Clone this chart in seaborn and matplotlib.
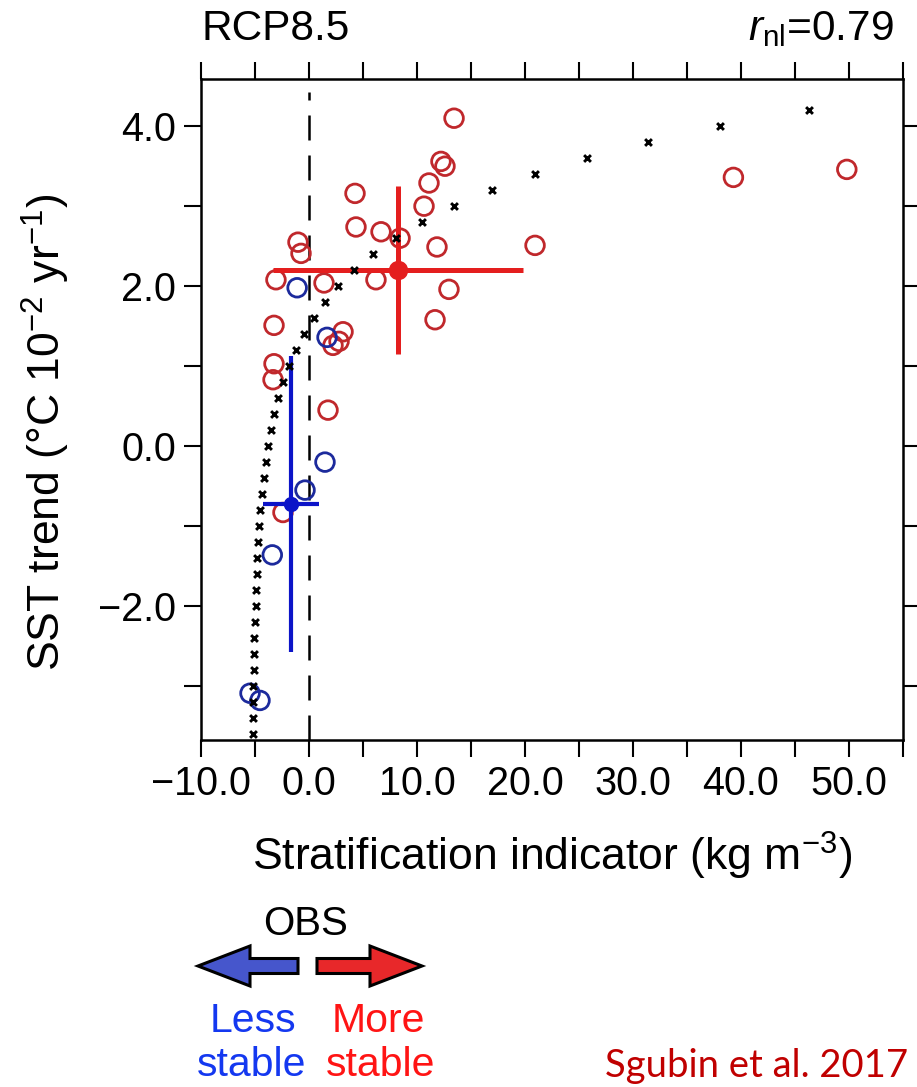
import matplotlib
matplotlib.use("Agg")
import matplotlib.pyplot as plt
from matplotlib.patches import FancyArrow
from matplotlib.ticker import MultipleLocator, FuncFormatter
import seaborn as sns

# model circles coloured red (more stable) / blue (less stable)
red_x = [13.43, 12.22, 12.59, 11.11, 10.65, 4.26, 4.35, 6.67, 8.43, 11.85, 20.93,
         -1.02, -0.74, -3.06, 1.39, 6.20, 12.96, 11.67, -3.24, 3.15, 2.78, 2.22,
         -3.24, -3.33, 1.76, -2.41, 39.3, 49.8]
red_y = [4.10, 3.56, 3.50, 3.29, 3.00, 3.16, 2.74, 2.68, 2.60, 2.49, 2.51,
         2.55, 2.41, 2.08, 2.04, 2.08, 1.96, 1.58, 1.51, 1.43, 1.31, 1.26,
         1.03, 0.83, 0.45, -0.83, 3.36, 3.46]
blue_x = [-1.10, 1.67, 1.48, -0.37, -3.40, -5.46, -4.54]
blue_y = [1.98, 1.36, -0.20, -0.55, -1.36, -3.09, -3.18]

# nonlinear fit (black crosses)
fit_y = [-3.6, -3.4, -3.2, -3.0, -2.8, -2.6, -2.4, -2.2, -2.0, -1.8,
         -1.6, -1.4, -1.2, -1.0, -0.8, -0.6, -0.4, -0.2, 0.0, 0.2,
         0.4, 0.6, 0.8, 1.0, 1.2, 1.4, 1.6, 1.8, 2.0, 2.2,
         2.4, 2.6, 2.8, 3.0, 3.2, 3.4, 3.6, 3.8, 4.0, 4.2]
fit_x = [-5.2, -5.2, -5.15, -5.15, -5.1, -5.05, -5.05, -5.0, -4.95, -4.9,
         -4.85, -4.8, -4.7, -4.6, -4.5, -4.35, -4.2, -4.0, -3.8, -3.5,
         -3.2, -2.85, -2.4, -1.85, -1.2, -0.45, 0.5, 1.5, 2.7, 4.2,
         5.9, 8.1, 10.5, 13.4, 16.9, 20.9, 25.7, 31.4, 38.1, 46.3]

# group means with spread
mean_red = (8.24, 2.20)
err_red = (11.6, 1.05)
mean_blue = (-1.67, -0.725)
err_blue = (2.55, 1.85)

x_lim = (-10, 55)
y_lim = (-3.675, 4.59)

sns.set_theme(style="ticks")
plt.rcParams['font.family'] = ['Liberation Sans', 'DejaVu Sans']
plt.rcParams['mathtext.fontset'] = 'custom'
plt.rcParams['mathtext.rm'] = 'Liberation Sans'
plt.rcParams['mathtext.it'] = 'Liberation Sans:italic'
for key in ['text.color', 'axes.labelcolor', 'xtick.color', 'ytick.color', 'axes.edgecolor']:
    plt.rcParams[key] = 'black'

FS = 28.5
LFS = 32
fig = plt.figure(figsize=(9.17, 10.87), dpi=100)
ax = fig.add_axes([0.2192, 0.3192, 0.7655, 0.6081])

ax.axvline(0, ymax=0.98, color='black', lw=1.8, dashes=(10, 6), zorder=1)

sns.scatterplot(x=red_x, y=red_y, ax=ax, marker='o', s=180, facecolors='none',
                edgecolor='#c0282c', linewidth=2.0, zorder=2)
sns.scatterplot(x=blue_x, y=blue_y, ax=ax, marker='o', s=180, facecolors='none',
                edgecolor='#1c2a9c', linewidth=2.0, zorder=2)

ax.errorbar(mean_red[0], mean_red[1], xerr=err_red[0], yerr=err_red[1], fmt='o',
            color='#e41e1e', ms=13, lw=3.6, capsize=0, zorder=3)
ax.errorbar(mean_blue[0], mean_blue[1], xerr=err_blue[0], yerr=err_blue[1], fmt='o',
            color='#0c14c8', ms=10, lw=3.0, capsize=0, zorder=3)

sns.scatterplot(x=fit_x, y=fit_y, ax=ax, marker='x', s=24, color='black',
                linewidth=2.1, zorder=4)

minus_fmt = FuncFormatter(lambda v, pos: f"{v:.1f}".replace('-', '\u2212'))
ax.set_xlim(*x_lim)
ax.set_ylim(*y_lim)
ax.xaxis.set_major_locator(MultipleLocator(10))
ax.xaxis.set_minor_locator(MultipleLocator(5))
ax.yaxis.set_major_locator(MultipleLocator(2))
ax.yaxis.set_minor_locator(MultipleLocator(1))
ax.xaxis.set_major_formatter(minus_fmt)
ax.yaxis.set_major_formatter(minus_fmt)
ax.tick_params(which='both', direction='out', length=12, width=1.5, color='black',
               top=True, right=True, labelsize=FS, labelcolor='black', pad=6)
for sp in ax.spines.values():
    sp.set_visible(True)
    sp.set_linewidth(1.8)
    sp.set_color('black')

ax.set_xlabel('Stratification indicator (kg m$^{-3}$)', fontsize=LFS, labelpad=19)
ax.set_ylabel('SST trend (°C 10$^{-2}$ yr$^{-1}$)', fontsize=LFS)
ax.yaxis.set_label_coords(-0.184, 0.466)

ax.text(0, 1.059, 'RCP8.5', transform=ax.transAxes, ha='left', va='baseline',
        fontsize=30.5)
ax.text(0.987, 1.059, '$r_{\\rm nl}$=0.79', transform=ax.transAxes, ha='right',
        va='baseline', fontsize=30.5)

# overlay in pixel units for the legend arrows
ov = fig.add_axes([0, 0, 1, 1], facecolor='none')
ov.set_xlim(0, 917)
ov.set_ylim(1087, 0)
ov.axis('off')

ov.text(306, 935, 'OBS', ha='center', va='baseline', fontsize=29)
ov.add_patch(FancyArrow(298, 966, -100, 0, width=15, head_width=40, head_length=52,
                        length_includes_head=True, fc='#4656cc', ec='black', lw=2.2))
ov.add_patch(FancyArrow(317, 966, 105, 0, width=15, head_width=40, head_length=52,
                        length_includes_head=True, fc='#e8282a', ec='black', lw=2.2))
ov.text(253, 1032, 'Less', ha='center', va='baseline', fontsize=29.5, color='#1438f0')
ov.text(252, 1076, 'stable', ha='center', va='baseline', fontsize=29.5, color='#1438f0')
ov.text(378, 1032, 'More', ha='center', va='baseline', fontsize=29.5, color='#ff1414')
ov.text(381, 1076, 'stable', ha='center', va='baseline', fontsize=29.5, color='#ff1414')
ov.text(908, 1077, 'Sgubin et al. 2017', ha='right', va='baseline', fontsize=27.5,
        color='#c00000', family='Lato')

fig.savefig('out.png', dpi=100)
